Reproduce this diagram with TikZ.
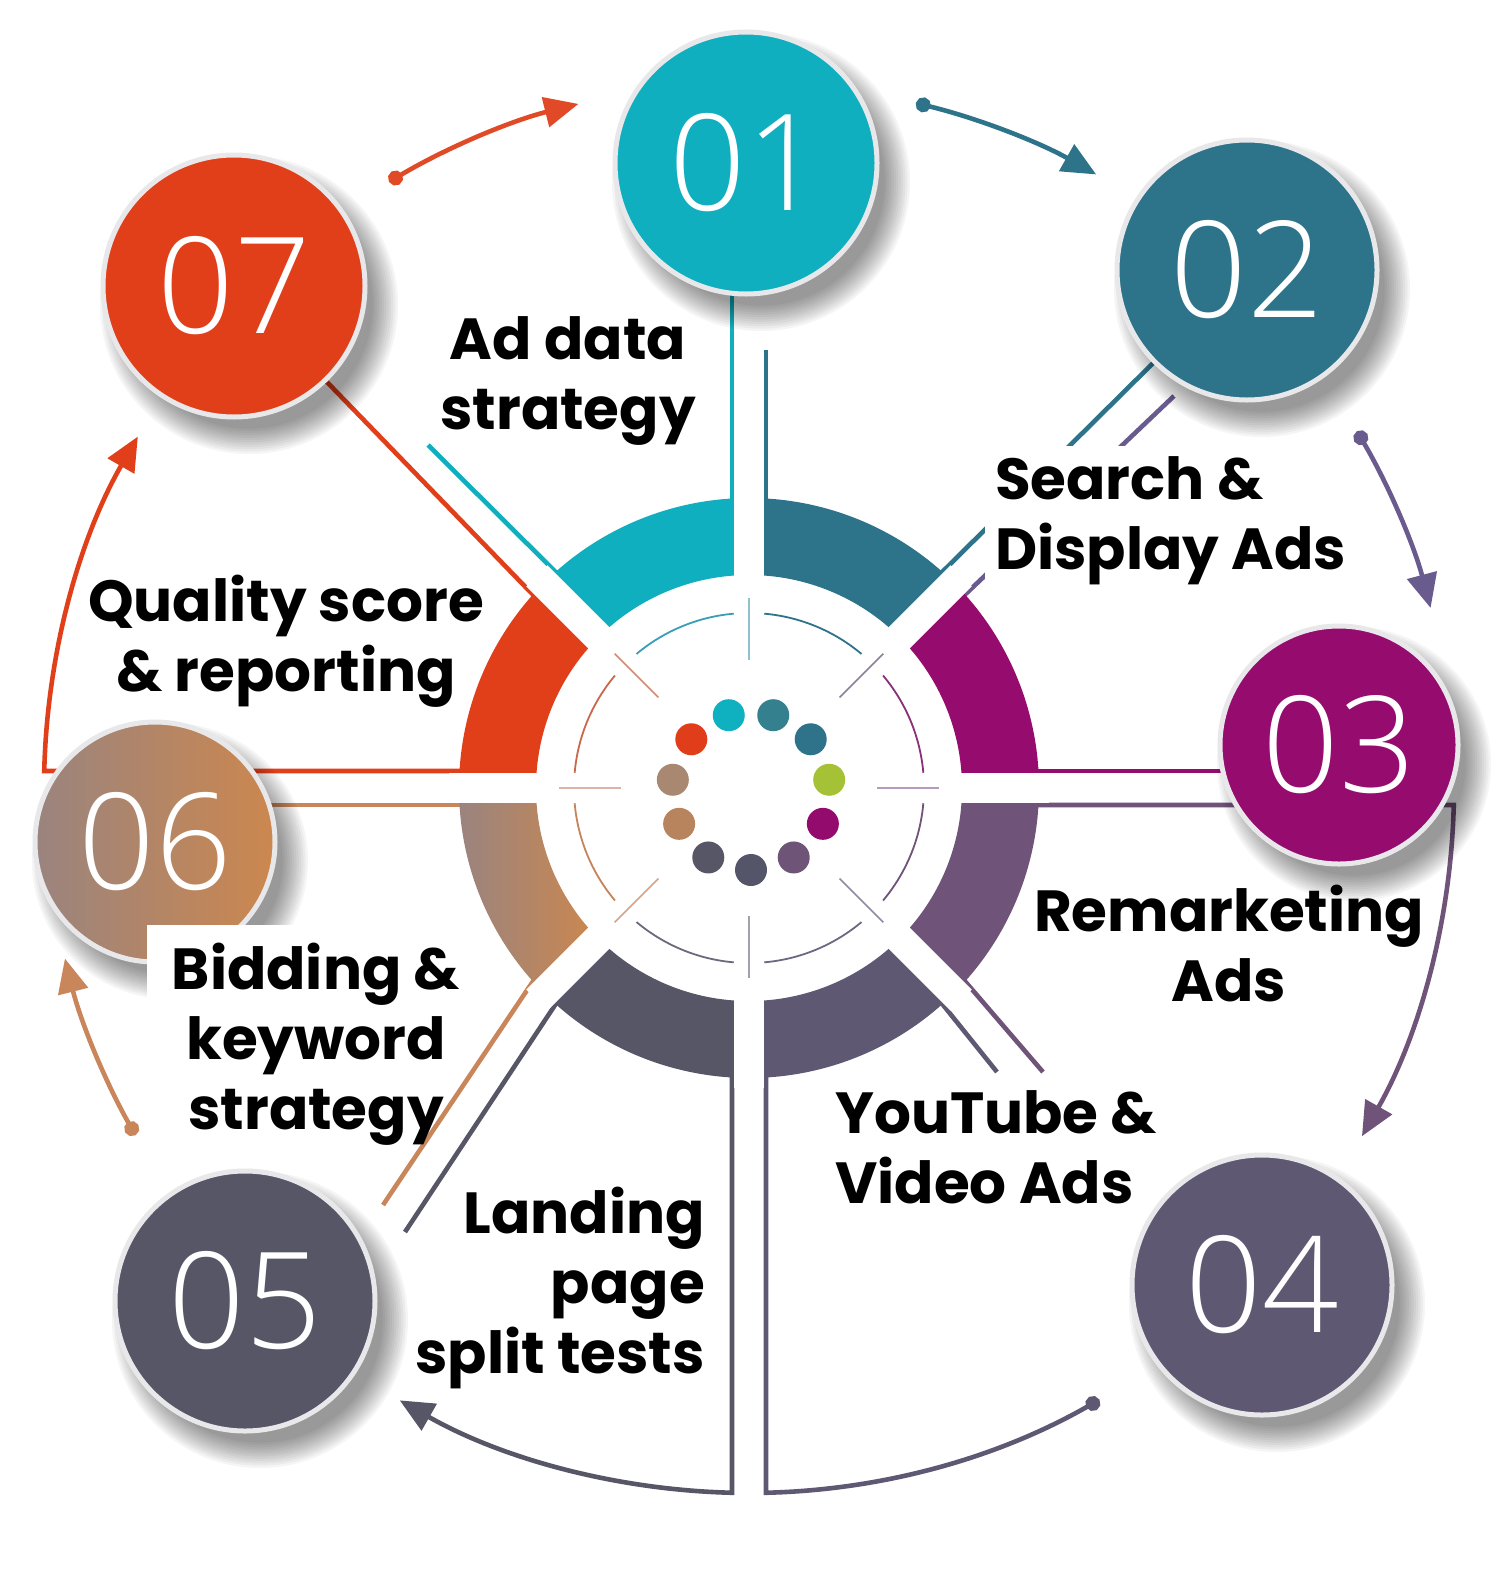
\documentclass[tikz,border=0pt]{standalone}
\usepackage{fontspec}
\newfontfamily\labfont{Poppins}
\newfontfamily\numfont{Open Sans Light}
\usetikzlibrary{arrows.meta,calc}
\pgfdeclarelayer{back}\pgfdeclarelayer{lines}
\pgfsetlayers{back,lines,main}
\definecolor{cA}{HTML}{0FAFBF}
\definecolor{cB}{HTML}{2D7389}
\definecolor{cC}{HTML}{950B6E}
\definecolor{cD}{HTML}{6F5378}
\definecolor{cE}{HTML}{5F5873}
\definecolor{cF}{HTML}{565666}
\definecolor{cGa}{HTML}{9A847F}
\definecolor{cGb}{HTML}{CC874E}
\definecolor{cH}{HTML}{E13F1A}
\definecolor{aA}{HTML}{E04A26}
\definecolor{aC}{HTML}{6A5B8F}
\definecolor{aG}{HTML}{C8865A}
\definecolor{iaA}{HTML}{3A9FB5}
\definecolor{iaB}{HTML}{2D7389}
\definecolor{iaC}{HTML}{8A2F78}
\definecolor{iaD}{HTML}{6F5378}
\definecolor{iaE}{HTML}{6B6883}
\definecolor{iaF}{HTML}{6A6A7C}
\definecolor{iaG}{HTML}{C58459}
\definecolor{iaH}{HTML}{C8694A}
\definecolor{tkA}{HTML}{8EC3CE}
\definecolor{tkB}{HTML}{8C80A0}
\definecolor{tkC}{HTML}{B79BBE}
\definecolor{tkD}{HTML}{8E8CA2}
\definecolor{tkE}{HTML}{A0A0AE}
\definecolor{tkF}{HTML}{D9A283}
\definecolor{tkG}{HTML}{DDB3A6}
\definecolor{tkH}{HTML}{D38F71}
\definecolor{dA}{HTML}{55556A}
\definecolor{dB}{HTML}{6E5577}
\definecolor{dC}{HTML}{930B6D}
\definecolor{dD}{HTML}{A5C136}
\definecolor{dE}{HTML}{2E7389}
\definecolor{dF}{HTML}{34808F}
\definecolor{dG}{HTML}{0FB0C0}
\definecolor{dH}{HTML}{E03E1A}
\definecolor{dI}{HTML}{A88870}
\definecolor{dJ}{HTML}{B8845E}
\definecolor{dK}{HTML}{565666}
\definecolor{ringc}{HTML}{E8E8EA}
\newcommand\segm[3]{\fill[#3] ($(C)+(#1:290)$) arc[start angle=#1,end angle=#2,radius=290] -- ($(C)+(#2:213)$) arc[start angle=#2,end angle=#1,radius=213] -- cycle;}
\newcommand\shd[3]{\foreach \i in {0,...,11}{\fill[black,opacity=0.04] (#1+15,#2+19) circle ({#3+18-\i*2.3});}}
\begin{document}
\begin{tikzpicture}[x=1pt,y=-1pt,
  ln/.style={line width=4.6pt},
  arrowhd/.style={-{Triangle[length=34pt,width=30pt]}},
  dotarrow/.style={{Circle[length=15pt]}-{Triangle[length=34pt,width=30pt]}},
  numc/.style={circle,inner sep=0pt,draw=ringc,line width=5pt,text=white,
    font=\numfont\fontsize{134}{134}\selectfont},
  lab/.style={font=\labfont\bfseries\fontsize{58}{70}\selectfont,text=black,inner sep=4pt}]
\begin{pgfonlayer}{back}
\fill[white] (0,0) rectangle (1500,1574);
\end{pgfonlayer}
\useasboundingbox (0,0) rectangle (1500,1574);
\coordinate (C) at (749,788);
% ring segments
\segm{0}{45}{cD}
\segm{45}{90}{cE}
\segm{90}{135}{cF}
\shade[left color=cGa,right color=cGb] ($(C)+(135:290)$) arc[start angle=135,end angle=180,radius=290] -- ($(C)+(180:213)$) arc[start angle=180,end angle=135,radius=213] -- cycle;
\segm{180}{225}{cH}
\segm{225}{270}{cA}
\segm{270}{315}{cB}
\segm{315}{360}{cC}
\foreach \a in {0,45,90,135}{\draw[white,line width=30pt] ($(C)+(\a:300)$) -- ($(C)+(\a+180:300)$);}
% inner thin arcs
\foreach \s/\col in {0/iaD,45/iaE,90/iaF,135/iaG,180/iaH,225/iaA,270/iaB,315/iaC}{
  \draw[\col,line width=1.8pt] ($(C)+({\s+5}:175)$) arc[start angle={\s+5},end angle={\s+40},radius=175];}
\foreach \s/\col in {0/tkC,45/tkD,90/tkE,135/tkF,180/tkG,225/tkH,270/tkA,315/tkB}{
  \draw[\col,line width=1.6pt] ($(C)+(\s:128)$) -- ($(C)+(\s:190)$);}
% dots
\foreach \k/\col in {0/dA,1/dB,2/dC,3/dD,4/dE,5/dF,6/dG,7/dH,8/dI,9/dJ,10/dK}{
  \fill[\col] ($(C)+(2,3)+({90-\k*32.727}:79)$) circle (16);}
% circles
\shd{746}{163}{131}
\node[numc,fill=cA,minimum size=262pt] (c01) at (746,163) {01};
\shd{1247}{270}{130}
\node[numc,fill=cB,minimum size=260pt] (c02) at (1247,270) {02};
\shd{1339}{745}{119}
\node[numc,fill=cC,minimum size=238pt] (c03) at (1339,745) {03};
\shd{1262}{1285}{130}
\node[numc,fill=cE,minimum size=260pt] (c04) at (1262,1285) {04};
\shd{245}{1301}{130}
\node[numc,fill=cF,minimum size=260pt] (c05) at (245,1301) {05};
\shd{155}{842}{120}
\node[numc,left color=cGa,right color=cGb,minimum size=240pt] (c06) at (155,842) {06};
\shd{234}{286}{131}
\node[numc,fill=cH,minimum size=262pt] (c07) at (234,286) {07};
\fill[white] (147,925) rectangle (330,1000);
% labels
\node[lab,align=center,anchor=north] (t1) at (568,312) {Ad data\\strategy};
\node[lab,align=left,anchor=north west,fill=white,inner sep=10pt] (t2) at (985,446) {Search \&\\Display Ads};
\node[lab,align=center,anchor=north] (t7) at (286,571) {Quality score\\\& reporting};
\node[lab,align=center,anchor=north] (t3) at (1229,881) {Remarketing\\Ads};
\node[lab,align=center,anchor=north] (t6) at (316,939) {Bidding \&\\keyword\\strategy};
\node[lab,align=left,anchor=north west] (t4) at (831,1086) {YouTube \&\\Video Ads};
\node[lab,align=right,anchor=north east] (t5) at (709,1183) {Landing\\page\\split tests};
% connectors
\begin{pgfonlayer}{lines}
\coordinate (u1) at (732,518);
\coordinate (u2) at (766,518);
\draw[ln,cA] (u1) -- (u1 |- c01.center);
\draw[ln,cB] (u2) -- (766,350);
\draw[ln,cA] (566.2,582.5) -- (428,445);
\draw[ln,cH] (543.3,605.4) -- (c07.center);
\draw[ln,cB] (931.7,582.4) -- (c02.center);
\draw[ln,aC] (954.2,604.9) -- (1174,396);
\draw[ln,cC] (1019,771) -- (c03.center |- 0,771);
\draw[ln,cD] (955.3,970.0) -- (1043,1072);
\draw[ln,cE] (933,992.4) -- (997,1072);
\draw[ln,cF] (563.9,991.6) -- (405,1232);
\draw[ln,aG] (541.3,968.9) -- (383,1205);
\draw[ln,aG] (479,805) -- (c06.center |- 0,805);
% cycle arrows on the big circle
\draw[ln,aA,dotarrow] ($(C)+(239.3:705)$) arc[start angle=239.3,end angle=256,radius=705];
\draw[ln,cB,dotarrow] ($(C)+(283.7:705)$) arc[start angle=283.7,end angle=299.5,radius=705];
\draw[ln,aC,dotarrow] ($(C)+(329.6:705)$) arc[start angle=329.6,end angle=345.2,radius=705];
\draw[ln,cD,arrowhd] (1019,805) -- ($(C)+(1.38:705)$) arc[start angle=1.38,end angle=29.6,radius=705];
\draw[ln,cE,{Circle[length=15pt]}-] ($(C)+(60.2:705)$) arc[start angle=60.2,end angle=88.62,radius=705] -- (766,1058);
\draw[ln,cF,arrowhd] (732,1058) -- ($(C)+(91.38:705)$) arc[start angle=91.38,end angle=119.7,radius=705];
\draw[ln,aG,dotarrow] ($(C)+(150.5:705)$) arc[start angle=150.5,end angle=166,radius=705];
\draw[ln,cH,arrowhd] (479,771) -- ($(C)+(181.38:705)$) arc[start angle=181.38,end angle=209.9,radius=705];
\end{pgfonlayer}
\end{tikzpicture}
\end{document}
